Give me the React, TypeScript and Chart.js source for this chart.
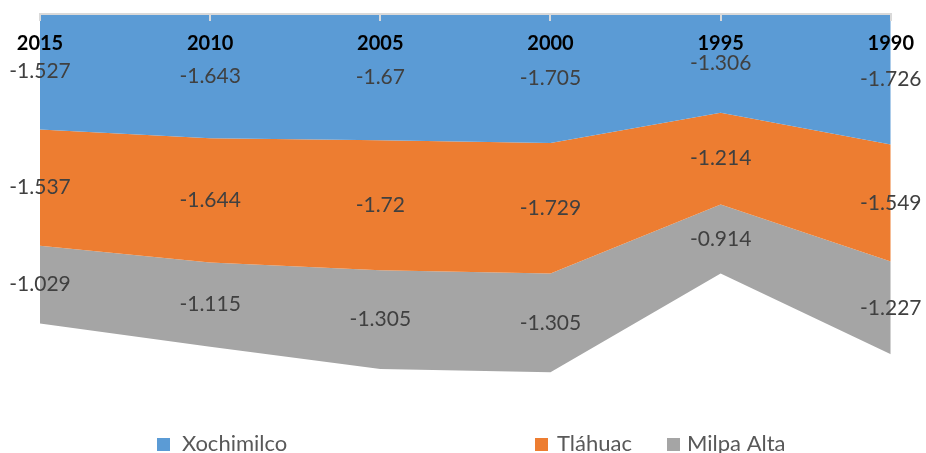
import React, { useEffect, useRef } from 'react';
import { Chart, registerables } from 'chart.js';

Chart.register(...registerables);

const categories = ['2015', '2010', '2005', '2000', '1995', '1990'];
const xochimilco = [-1.527, -1.643, -1.67, -1.705, -1.306, -1.726];
const tlahuac = [-1.537, -1.644, -1.72, -1.729, -1.214, -1.549];
const milpaAlta = [-1.029, -1.115, -1.305, -1.305, -0.914, -1.227];
const seriesNames = ['Xochimilco', 'Tláhuac', 'Milpa Alta'];
const yMin = -5;
const yMax = 0;

const COLORS = ['#5B9BD5', '#ED7D31', '#A5A5A5'];
const FONT = 'Lato, "Open Sans", sans-serif';

const valueLabels = {
  id: 'valueLabels',
  afterDatasetsDraw(chart: any) {
    const { ctx } = chart;
    const yScale = chart.scales.y;
    ctx.save();
    ctx.font = `21px ${FONT}`;
    ctx.fillStyle = '#404040';
    ctx.textAlign = 'center';
    ctx.textBaseline = 'middle';
    const n = chart.data.labels.length;
    for (let j = 0; j < n; j++) {
      let base = 0;
      chart.data.datasets.forEach((ds: any, i: number) => {
        const v = ds.data[j];
        const meta = chart.getDatasetMeta(i);
        const x = meta.data[j].x;
        const top = yScale.getPixelForValue(base);
        const bottom = yScale.getPixelForValue(base + v);
        ctx.fillText(String(v), x, (top + bottom) / 2);
        base += v;
      });
    }
    ctx.restore();
  },
};

const LEGEND_BOX_X = [157, 535, 667];
const LEGEND_TEXT_X = [182, 557, 687];

const customLegend = {
  id: 'customLegend',
  afterDraw(chart: any) {
    const { ctx } = chart;
    ctx.save();
    ctx.font = `22px ${FONT}`;
    ctx.textAlign = 'left';
    ctx.textBaseline = 'alphabetic';
    chart.data.datasets.forEach((ds: any, i: number) => {
      ctx.fillStyle = ds.backgroundColor;
      ctx.fillRect(LEGEND_BOX_X[i], 438, 13, 13);
      ctx.fillStyle = '#595959';
      ctx.fillText(ds.label, LEGEND_TEXT_X[i], 451);
    });
    ctx.restore();
  },
};

export default function App() {
  const ref = useRef<HTMLCanvasElement>(null);
  useEffect(() => {
    if (!ref.current) return;
    const series = [xochimilco, tlahuac, milpaAlta];
    const chart = new Chart(ref.current, {
      type: 'line',
      data: {
        labels: categories,
        datasets: series.map((d, i) => ({
          label: seriesNames[i],
          data: d,
          backgroundColor: COLORS[i],
          borderColor: COLORS[i],
          borderWidth: 0,
          pointRadius: 0,
          tension: 0,
          fill: i === 0 ? 'origin' : '-1',
        })),
      },
      options: {
        animation: false,
        responsive: false,
        layout: { padding: { top: 14, left: 40, right: 33, bottom: 61 } },
        plugins: { legend: { display: false }, tooltip: { enabled: false } },
        scales: {
          x: {
            type: 'category',
            position: { y: 0 } as any,
            offset: false,
            grid: {
              display: true,
              drawOnChartArea: false,
              drawTicks: true,
              tickLength: 6,
              color: '#D9D9D9',
              lineWidth: 2,
              z: 1,
            },
            border: { display: true, color: '#D9D9D9', width: 2, z: 1 },
            ticks: {
              font: { family: FONT, size: 20, weight: 'bold' },
              color: '#000000',
              padding: 12,
              maxRotation: 0,
              autoSkip: false,
              z: 2,
            },
          },
          y: { display: false, stacked: true, min: yMin, max: yMax },
        },
      },
      plugins: [valueLabels, customLegend],
    } as any);
    return () => chart.destroy();
  }, []);
  return (
    <div style={{ position: 'absolute', left: 0, top: 0, width: 926, height: 453 }}>
      <canvas ref={ref} width={926} height={453} />
    </div>
  );
}
